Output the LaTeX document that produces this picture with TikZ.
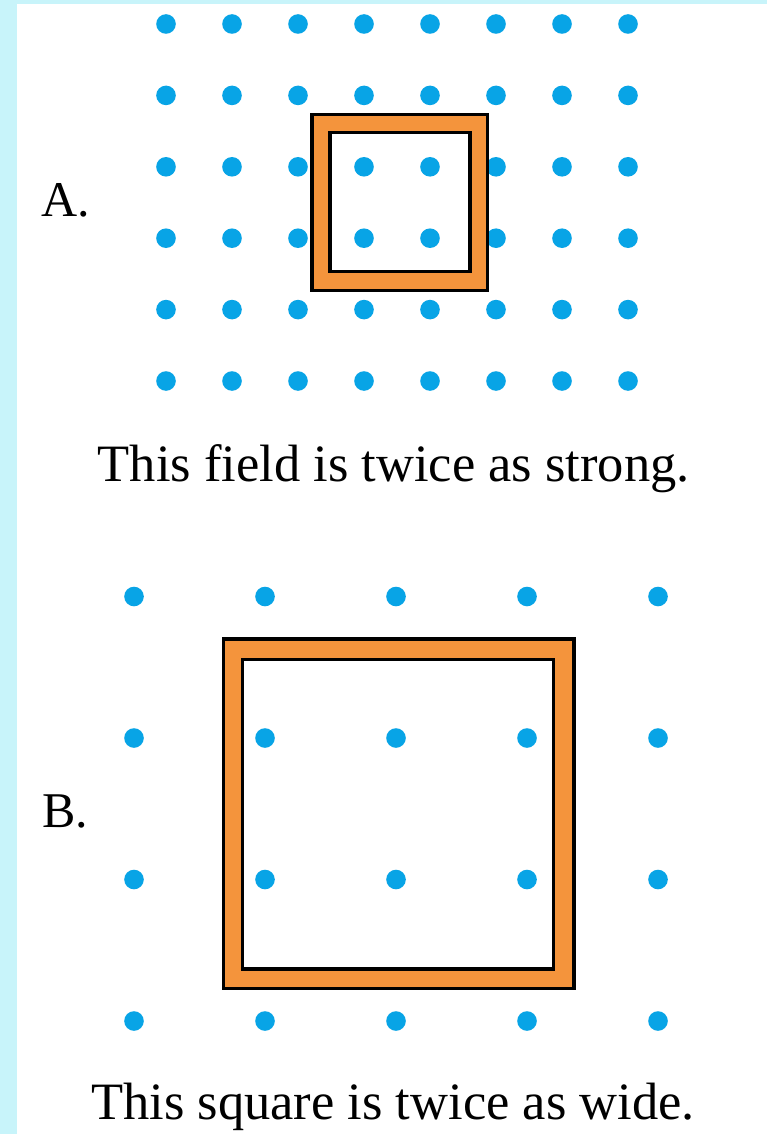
\documentclass[tikz,border=0pt]{standalone}
\usepackage{fontspec}
\setmainfont{Liberation Serif}
\definecolor{bgcyan}{HTML}{C8F4FA}
\definecolor{dotblue}{HTML}{08A4E6}
\definecolor{frameorange}{HTML}{F4943C}
\begin{document}
\begin{tikzpicture}[x=1pt,y=-1pt,
  dotfill/.style={fill=dotblue},
  lbl/.style={inner sep=0pt, anchor=base west, font=\fontsize{50}{58}\selectfont},
  captext/.style={inner sep=0pt, anchor=base west, font=\fontsize{52.5}{60}\selectfont},
  band/.style={fill=frameorange},
  hole/.style={fill=white},
  edge/.style={draw=black, line width=3.2pt}]
\useasboundingbox (0,0) rectangle (767,1134);
\fill[bgcyan] (0,0) rectangle (767,1134);
\fill[white] (17,4) rectangle (767,1134);
% Square A
\fill[band] (312,114.3) rectangle (487.7,290.3);
\fill[hole] (330,132.3) rectangle (470,271.7);
\foreach \i in {0,...,7} \foreach \j in {0,...,5}
  \fill[dotfill] (166+66*\i, 24+71.4*\j) circle (9.8);
\draw[edge] (312,114.3) rectangle (487.7,290.3);
\draw[edge] (330,132.3) rectangle (470,271.7);
% Square B
\fill[band] (223.5,639) rectangle (574,988.3);
\fill[hole] (242.3,659.3) rectangle (553.3,969);
\foreach \i in {0,...,4} \foreach \j in {0,...,3}
  \fill[dotfill] (134+131*\i, 596.5+141.5*\j) circle (9.8);
\draw[edge] (223.5,639) rectangle (574,988.3);
\draw[edge] (242.3,659.3) rectangle (553.3,969);
% Text
\node[lbl] (labA) at (41.5,216) {A.};
\node[captext] (capA) at (97.5,481.7) {This field is twice as strong.};
\node[lbl] (labB) at (42,827.3) {B.};
\node[captext] (capB) at (91,1119) {This square is twice as wide.};
\end{tikzpicture}
\end{document}
